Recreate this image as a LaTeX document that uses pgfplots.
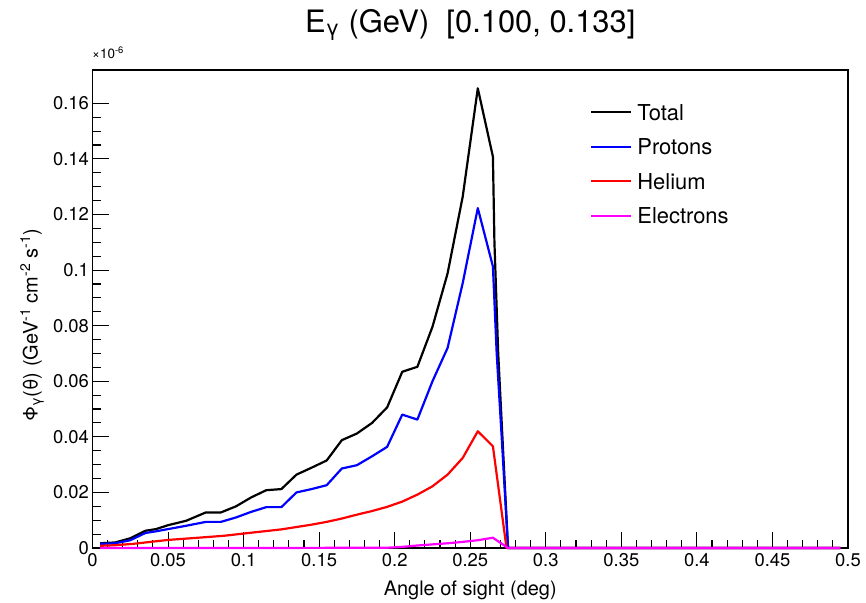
\documentclass[border=0pt]{standalone}
\usepackage{fontspec}
\setmainfont{TeX Gyre Heros}
\usepackage{pgfplots}
\pgfplotsset{compat=1.18}
\definecolor{rootblue}{RGB}{0,0,255}
\definecolor{rootred}{RGB}{255,0,0}
\definecolor{rootmag}{RGB}{255,0,255}
\begin{document}
\begin{tikzpicture}
\path[use as bounding box] (0,0) rectangle (866bp,603bp);
\begin{axis}[
  name=ax,
  at={(92.5bp,55bp)}, anchor=south west,
  scale only axis, width=755.5bp, height=478bp,
  xmin=0, xmax=0.5, ymin=0, ymax=0.172,
  clip=false,
  scaled ticks=false,
  xtick={0,0.05,0.1,0.15,0.2,0.25,0.3,0.35,0.4,0.45,0.5},
  xticklabels={0,0.05,0.1,0.15,0.2,0.25,0.3,0.35,0.4,0.45,0.5},
  ytick={0,0.02,0.04,0.06,0.08,0.1,0.12,0.14,0.16},
  yticklabels={0,0.02,0.04,0.06,0.08,0.1,0.12,0.14,0.16},
  minor x tick num=4, minor y tick num=3,
  xtick pos=left, ytick pos=left,
  tick align=inside,
  major tick length=16bp, minor tick length=8bp,
  every tick/.style={black, line width=1.1bp},
  axis line style={line width=1.3bp},
  tick label style={font=\fontsize{18.5}{20}\selectfont},
  xticklabel style={yshift=-2bp},
  title={E\textsubscript{γ} (GeV)\ \ [0.100, 0.133]},
  title style={at={(axis description cs:0.5,1)}, anchor=base, yshift=32bp, font=\fontsize{31}{34}\selectfont},
  xlabel={Angle of sight (deg)},
  every axis x label/.style={at={(axis description cs:0.5,0)}, anchor=base, yshift=-47.5bp, font=\fontsize{20}{24}\selectfont},
  ylabel={Φ\textsubscript{γ}(θ) (GeV\textsuperscript{-1} cm\textsuperscript{-2} s\textsuperscript{-1})},
  every axis y label/.style={at={(axis description cs:-0.08,0.466)}, rotate=90, anchor=center, font=\fontsize{20}{24}\selectfont},
  legend cell align=left,
  legend image code/.code={\draw[#1] (0bp,0bp) -- (40bp,0bp);},
  legend style={at={(axis description cs:0.6585,0.933)}, anchor=north west, draw=none, fill=none,
    inner sep=0pt, row sep=14.5bp, column sep=3bp,
    font=\fontsize{22}{26}\selectfont,
    nodes={inner sep=2bp, text height=16bp, text depth=0bp}},
  every axis plot/.append style={line width=2.2bp, line join=round},
]
\addplot[black] coordinates {
(0.005,0.0017) (0.015,0.0020) (0.025,0.0035) (0.035,0.0062) (0.042,0.0068)
(0.050,0.0082) (0.062,0.0098) (0.075,0.0128) (0.085,0.0128) (0.095,0.0150)
(0.105,0.0182) (0.115,0.0208) (0.125,0.0212) (0.135,0.0264) (0.145,0.0289)
(0.155,0.0315) (0.165,0.0388) (0.175,0.0412) (0.185,0.0450) (0.195,0.0506)
(0.205,0.0634) (0.215,0.0652) (0.225,0.0796) (0.235,0.0988) (0.245,0.1264)
(0.255,0.1654) (0.265,0.1408) (0.266,0.1100) (0.2685,0.0700) (0.275,0)
(0.495,0)};
\addlegendentry{Total}
\addplot[rootblue] coordinates {
(0.005,0.0015) (0.015,0.0017) (0.025,0.0028) (0.035,0.0054) (0.042,0.0060)
(0.062,0.0080) (0.075,0.0094) (0.085,0.0094) (0.095,0.0110) (0.105,0.0130)
(0.115,0.0147) (0.125,0.0147) (0.135,0.0200) (0.145,0.0212) (0.155,0.0226)
(0.165,0.0286) (0.175,0.0298) (0.185,0.0330) (0.195,0.0364) (0.205,0.0480)
(0.215,0.0462) (0.225,0.0600) (0.235,0.0720) (0.245,0.0953) (0.255,0.1223)
(0.265,0.1013) (0.2675,0.0700) (0.2708,0.0400) (0.275,0) (0.495,0)};
\addlegendentry{Protons}
\addplot[rootred] coordinates {
(0.005,0.0008) (0.015,0.0010) (0.027,0.0015) (0.050,0.0029) (0.070,0.0037)
(0.087,0.0044) (0.105,0.0055) (0.125,0.0067) (0.145,0.0084) (0.155,0.0094)
(0.165,0.0106) (0.175,0.0120) (0.185,0.0133) (0.195,0.0148) (0.205,0.0167)
(0.215,0.0192) (0.225,0.0222) (0.235,0.0264) (0.245,0.0324) (0.255,0.0420)
(0.265,0.0366) (0.274,0) (0.495,0)};
\addlegendentry{Helium}
\addplot[rootmag] coordinates {
(0.005,0) (0.105,0) (0.195,0.0001) (0.205,0.0004) (0.215,0.0009) (0.225,0.0013)
(0.235,0.0017) (0.245,0.0022) (0.255,0.0028) (0.265,0.0037) (0.275,0) (0.495,0)};
\addlegendentry{Electrons}
\end{axis}
\node[anchor=base west, inner sep=0pt, font=\fontsize{13.5}{15}\selectfont] at (92bp,544.5bp) {×10\textsuperscript{-6}};
\end{tikzpicture}
\end{document}
